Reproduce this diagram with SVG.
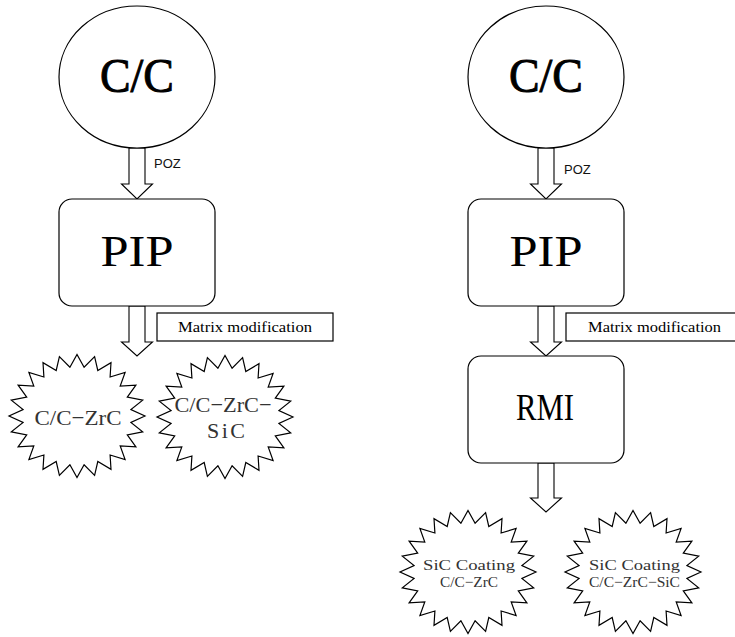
<svg xmlns="http://www.w3.org/2000/svg" width="735" height="637" viewBox="0 0 735 637">
<style>
.shape{fill:#fff;stroke:#000;stroke-width:1.2}
.arrow{fill:#fff;stroke:#000;stroke-width:1.1}
.big{font-family:"Liberation Serif","Times New Roman",serif;text-anchor:middle;fill:#000}
.cc{stroke:#000;stroke-width:0.9}
.poz{font-family:"Liberation Sans",Arial,sans-serif;font-size:13px;fill:#111}
.lbl{font-family:"Liberation Serif","Times New Roman",serif;font-size:15.5px;text-anchor:middle;fill:#000}
.star{font-family:"Liberation Serif","Times New Roman",serif;text-anchor:middle;fill:#333}
</style>
<defs>
<polygon id="star24" points="68,0 53.9,6.4 65.7,15.9 50.3,18.8 58.9,30.8 43.2,30 48.1,43.5 33.1,39 34,53.3 20.8,45.5 17.6,59.4 7.1,48.8 0,61.5 -7.1,48.8 -17.6,59.4 -20.8,45.5 -34,53.3 -33.1,39 -48.1,43.5 -43.2,30 -58.9,30.8 -50.3,18.8 -65.7,15.9 -53.9,6.4 -68,0 -53.9,-6.4 -65.7,-15.9 -50.3,-18.8 -58.9,-30.8 -43.2,-30 -48.1,-43.5 -33.1,-39 -34,-53.3 -20.8,-45.5 -17.6,-59.4 -7.1,-48.8 0,-61.5 7.1,-48.8 17.6,-59.4 20.8,-45.5 34,-53.3 33.1,-39 48.1,-43.5 43.2,-30 58.9,-30.8 50.3,-18.8 65.7,-15.9 53.9,-6.4"/>
</defs>

<g id="connectors">
<polygon class="arrow" points="129,148 145,148 145,184 152.5,184 137,199 121.5,184 129,184"/>
<text class="poz" x="154" y="168">POZ</text>
<polygon class="arrow" points="129,306 145,306 145,342 152.5,342 137,356 121.5,342 129,342"/>
<polygon class="arrow" points="538,148 554,148 554,184 561.5,184 546,199 530.5,184 538,184"/>
<text class="poz" x="564" y="174">POZ</text>
<polygon class="arrow" points="538,306 554,306 554,342 561.5,342 546,356 530.5,342 538,342"/>
<polygon class="arrow" points="538,463 554,463 554,498 561.5,498 546,512 530.5,498 538,498"/>
</g>

<g id="cc-left">
<ellipse class="shape" cx="137" cy="77" rx="78" ry="71"/>
<text class="big cc" x="137" y="92" font-size="48" textLength="74" lengthAdjust="spacingAndGlyphs">C/C</text>
</g>
<g id="pip-left">
<rect class="shape" x="59" y="199" width="156" height="107" rx="13"/>
<text class="big" x="137" y="266" font-size="45" textLength="73" lengthAdjust="spacingAndGlyphs">PIP</text>
</g>
<g id="matrix-left">
<rect class="shape" x="157" y="313" width="176" height="28"/>
<text class="lbl" x="245" y="332" textLength="134" lengthAdjust="spacingAndGlyphs">Matrix modification</text>
</g>
<g id="star-zrc-left">
<use href="#star24" class="shape" transform="translate(77,416)"/>
<text class="star" x="78" y="425" font-size="22" textLength="87" lengthAdjust="spacingAndGlyphs">C/C−ZrC</text>
</g>
<g id="star-zrcsic-left">
<use href="#star24" class="shape" transform="translate(225,417)"/>
<text class="star" x="223" y="412" font-size="22" textLength="97" lengthAdjust="spacingAndGlyphs">C/C−ZrC−</text>
<text class="star" x="226" y="438" font-size="22" textLength="38" lengthAdjust="spacing">SiC</text>
</g>

<g id="cc-right">
<ellipse class="shape" cx="546" cy="77" rx="78" ry="71"/>
<text class="big cc" x="546" y="92" font-size="48" textLength="74" lengthAdjust="spacingAndGlyphs">C/C</text>
</g>
<g id="pip-right">
<rect class="shape" x="468" y="199" width="156" height="107" rx="13"/>
<text class="big" x="546" y="266" font-size="45" textLength="73" lengthAdjust="spacingAndGlyphs">PIP</text>
</g>
<g id="matrix-right">
<rect class="shape" x="566" y="313" width="180" height="28"/>
<text class="lbl" x="654.5" y="332" textLength="133" lengthAdjust="spacingAndGlyphs">Matrix modification</text>
</g>
<g id="rmi">
<rect class="shape" x="468" y="356" width="156" height="107" rx="13"/>
<text class="big" x="545" y="420" font-size="38" textLength="58" lengthAdjust="spacingAndGlyphs">RMI</text>
</g>
<g id="star-coat-zrc">
<use href="#star24" class="shape" transform="translate(468,572)"/>
<text class="star" x="469" y="570" font-size="15" textLength="92" lengthAdjust="spacingAndGlyphs">SiC Coating</text>
<text class="star" x="469" y="587" font-size="15" textLength="58" lengthAdjust="spacingAndGlyphs">C/C−ZrC</text>
</g>
<g id="star-coat-zrcsic">
<use href="#star24" class="shape" transform="translate(633,572)"/>
<text class="star" x="634.5" y="570" font-size="15" textLength="91" lengthAdjust="spacingAndGlyphs">SiC Coating</text>
<text class="star" x="634.5" y="587" font-size="15" textLength="91" lengthAdjust="spacingAndGlyphs">C/C−ZrC−SiC</text>
</g>
</svg>
